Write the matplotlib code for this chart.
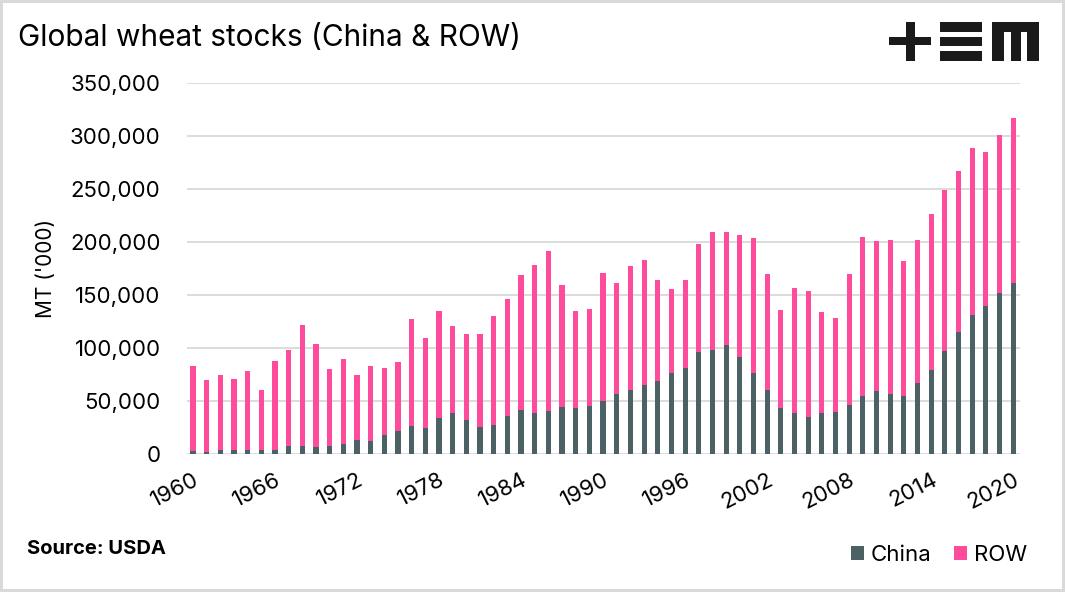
import matplotlib
matplotlib.use("Agg")
import matplotlib.pyplot as plt
from matplotlib.patches import Rectangle
from matplotlib.ticker import FuncFormatter

plt.rcParams["font.family"] = ["Inter", "DejaVu Sans"]

# wheat ending stocks, '000 MT
years = list(range(1960, 2021))
china = [2.5, 1.6, 3.5, 3.5, 3.5, 3.5, 3.5, 7.2, 7.2, 6.3,
         7.2, 9.1, 12.9, 12.0, 17.6, 21.4, 26.0, 24.2, 33.6, 38.4,
         31.8, 25.2, 27.0, 35.5, 41.2, 38.4, 40.3, 44.0, 43.1, 45.0,
         49.7, 56.3, 60.0, 64.8, 68.6, 76.1, 80.8, 95.9, 97.8, 102.5,
         91.2, 76.1, 60.0, 43.1, 38.4, 34.6, 38.4, 39.3, 45.9, 54.4,
         59.1, 56.3, 54.4, 66.7, 78.9, 96.9, 114.8, 130.8, 139.3, 151.6,
         161.0]
total = [83.0, 69.5, 75.0, 70.4, 78.0, 60.0, 87.4, 97.8, 121.4, 103.5,
         80.0, 89.3, 74.2, 82.7, 80.8, 86.5, 127.0, 109.0, 134.6, 120.4,
         112.9, 112.9, 129.9, 145.9, 168.6, 178.0, 191.2, 159.1, 134.6, 136.5,
         170.4, 161.0, 177.0, 182.7, 163.8, 155.3, 163.8, 197.8, 209.1, 209.1,
         206.3, 203.5, 169.5, 135.5, 156.3, 153.5, 133.6, 128.0, 169.5, 204.4,
         200.6, 201.6, 181.8, 201.6, 226.1, 248.7, 266.7, 288.4, 284.6, 300.6,
         316.7]
china = [v * 1000 for v in china]
row = [t * 1000 - c for t, c in zip(total, china)]

china_col = "#4c6163"
row_col = "#ff4b9b"
grid_col = "#d9d9d9"

fig = plt.figure(figsize=(10.65, 5.92), dpi=100)
fig.patch.set_edgecolor(grid_col)
fig.patch.set_linewidth(3)

ax = fig.add_axes([187 / 1065, 1 - 454 / 592, (1020 - 187) / 1065, (454 - 83) / 592])
ax.bar(years, china, width=0.38, color=china_col, label="China", zorder=3)
ax.bar(years, row, width=0.38, bottom=china, color=row_col, label="ROW", zorder=3)

ax.set_xlim(1959.56, 2020.5)
ax.set_ylim(0, 350000)
ax.set_yticks(range(0, 350001, 50000))
ax.yaxis.set_major_formatter(FuncFormatter(lambda v, p: f"{int(v):,}"))
ax.set_xticks(range(1960, 2021, 6))
ax.tick_params(axis="both", length=0, labelsize=16, colors="black")
ax.tick_params(axis="y", pad=19)
ax.tick_params(axis="x", pad=11)
for lab in ax.get_xticklabels():
    lab.set_rotation(27)
    lab.set_ha("right")
    lab.set_va("top")
    lab.set_rotation_mode("anchor")

ax.grid(axis="y", color=grid_col, linewidth=1.3, zorder=0)
for s in ax.spines.values():
    s.set_visible(False)
ax.set_ylabel("MT ('000)", fontsize=15, labelpad=10)

fig.text(18 / 1065, 1 - 38 / 592, "Global wheat stocks (China & ROW)",
         fontsize=21.5, va="center", ha="left")
fig.text(27 / 1065, 1 - 549 / 592, "Source: USDA", fontsize=14.5,
         fontweight="bold", va="center", ha="left")

leg = fig.legend(loc="center right", bbox_to_anchor=(1036 / 1065, 1 - 555 / 592),
                 ncol=2, frameon=False, fontsize=16, handlelength=0.6,
                 handleheight=0.6, handletextpad=0.3, columnspacing=1.0,
                 borderaxespad=0)

# +EM logo, drawn in pixel space
logo = [(889, 37, 42, 8), (906, 22, 9, 39),
        (940, 22, 42, 10), (940, 37, 42, 9), (940, 51, 42, 10),
        (992, 22, 47, 10), (992, 22, 12, 39), (1011, 22, 10, 39), (1027, 22, 12, 39)]
for x0, y0, w, h in logo:
    fig.patches.append(Rectangle((x0 / 1065, 1 - (y0 + h) / 592), w / 1065, h / 592,
                                 transform=fig.transFigure, color="#1a1a1a", lw=0))

fig.savefig("out.png", dpi=100)
